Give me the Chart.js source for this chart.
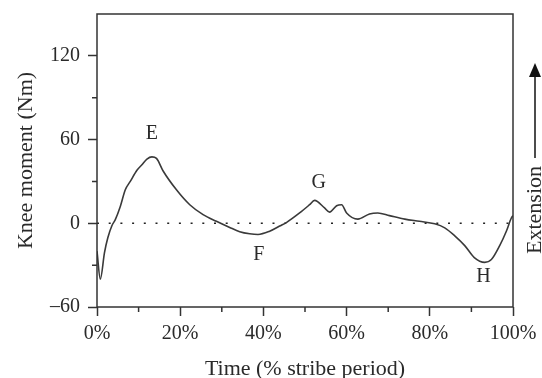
<!DOCTYPE html>
<html>
<head>
<meta charset="utf-8">
<script src="https://cdn.jsdelivr.net/npm/chart.js@4"></script>
<style>
  html, body { margin: 0; background: #fff; }
</style>
</head>
<body>
<canvas id="chart" width="542" height="378"></canvas>
<script>
// knee moment over one stride
const timePct = [0, 0.8, 1.8, 2.6, 3.6, 4.4, 5.6, 6.8, 8, 9.6, 10.8, 12, 13.2, 14.3, 15.9, 19.1, 22.3, 25.5,
  28.7, 31.9, 34.3, 36.7, 38.7, 41.5, 43.9, 45.6, 48.7, 51.1, 52.3, 54.7, 55.9, 57.6, 58.8,
  60, 62.7, 65.5, 67.5, 70.3, 74, 77.5, 81.2, 83.6, 86, 88.4, 90.7, 93.2, 94.8, 96.8, 98.4, 99.6, 100];
const kneeMoment = [-20, -40, -21, -10.4, -1.6, 2.6, 12, 24, 30, 38, 42, 46, 47.6, 46.5, 37.5, 24, 13.3, 6.2,
  1.4, -3, -6, -7.5, -8, -5.7, -2, 0.7, 7.4, 13.3, 16.4, 11, 8, 12.6, 13.3,
  7.4, 3, 6.7, 7.4, 5.5, 3, 1.4, -0.4, -3.3, -9, -16, -24.6, -28, -26, -16, -5.7, 3.8, 5.5];

const xMajor = [0, 20, 40, 60, 80, 100];
const xMinor = [10, 30, 50, 70, 90];
const yMajor = [-60, 0, 60, 120];
const yMinor = [-30, 30, 90];

const peakNames = ["E", "F", "G", "H"];
const peakX = [13.2, 38.9, 53.3, 92.9];
const peakY = [64.5, -22.3, 29, -38.6];

const serif = '"Liberation Serif", "Times New Roman", serif';
const ink = "#2a2a2a";

const extras = {
  id: "extras",
  afterDraw(chart) {
    const { ctx, chartArea: a, scales: { x, y } } = chart;
    ctx.save();
    ctx.strokeStyle = "#333";
    ctx.lineWidth = 1.5;
    ctx.strokeRect(a.left, a.top, a.right - a.left, a.bottom - a.top);

    // short minor ticks
    ctx.beginPath();
    xMinor.forEach(v => {
      const px = x.getPixelForValue(v);
      ctx.moveTo(px, a.bottom);
      ctx.lineTo(px, a.bottom + 5);
    });
    yMinor.forEach(v => {
      const py = y.getPixelForValue(v);
      ctx.moveTo(a.left, py);
      ctx.lineTo(a.left - 5, py);
    });
    ctx.stroke();

    // peak letters
    ctx.fillStyle = ink;
    ctx.font = "20px " + serif;
    ctx.textAlign = "center";
    ctx.textBaseline = "middle";
    peakNames.forEach((n, i) => {
      ctx.fillText(n, x.getPixelForValue(peakX[i]), y.getPixelForValue(peakY[i]));
    });

    // "Extension" arrow at the right
    const ax = a.right + 22;
    ctx.lineWidth = 1.5;
    ctx.strokeStyle = "#111";
    ctx.beginPath();
    ctx.moveTo(ax, 158);
    ctx.lineTo(ax, 74);
    ctx.stroke();
    ctx.fillStyle = "#111";
    ctx.beginPath();
    ctx.moveTo(ax, 63);
    ctx.lineTo(ax - 6, 77);
    ctx.lineTo(ax + 6, 77);
    ctx.closePath();
    ctx.fill();

    ctx.translate(a.right + 22, 210);
    ctx.rotate(-Math.PI / 2);
    ctx.fillStyle = ink;
    ctx.font = "22px " + serif;
    ctx.fillText("Extension", 0, 0);
    ctx.restore();
  }
};

new Chart(document.getElementById("chart"), {
  type: "line",
  data: {
    datasets: [
      {
        data: timePct.map((t, i) => ({ x: t, y: kneeMoment[i] })),
        borderColor: "#3a3a3a",
        borderWidth: 1.6,
        pointRadius: 0,
        cubicInterpolationMode: "monotone"
      },
      {
        data: [{ x: 0, y: 0 }, { x: 100, y: 0 }],
        borderColor: "#222",
        borderWidth: 1.6,
        borderDash: [2, 9.7],
        pointRadius: 0
      }
    ]
  },
  options: {
    responsive: false,
    animation: false,
    layout: { padding: { left: 0, right: 29, top: 14, bottom: 0 } },
    plugins: { legend: { display: false }, tooltip: { enabled: false } },
    scales: {
      x: {
        type: "linear",
        min: 0,
        max: 100,
        afterBuildTicks: s => { s.ticks = xMajor.map(v => ({ value: v })); },
        afterFit: s => { s.height = 71; s.paddingLeft = 0; s.paddingRight = 0; },
        border: { display: false },
        grid: { drawOnChartArea: false, drawTicks: true, tickLength: 9, tickColor: "#333", tickWidth: 1.5 },
        ticks: {
          color: ink,
          padding: 6,
          maxRotation: 0,
          font: { family: serif, size: 20 },
          callback: v => v + "%"
        },
        title: {
          display: true,
          text: "Time (% stribe period)",
          color: ink,
          font: { family: serif, size: 22, lineHeight: 0.8 },
          padding: { top: 0, bottom: 0 }
        }
      },
      y: {
        min: -60,
        max: 150,
        afterBuildTicks: s => { s.ticks = yMajor.map(v => ({ value: v })); },
        afterFit: s => { s.width = 97; s.paddingTop = 0; s.paddingBottom = 0; },
        border: { display: false },
        grid: { drawOnChartArea: false, drawTicks: true, tickLength: 9, tickColor: "#333", tickWidth: 1.5 },
        ticks: {
          color: ink,
          padding: 8,
          font: { family: serif, size: 20 },
          callback: v => (v < 0 ? "\u2013" + Math.abs(v) : "" + v)
        },
        title: {
          display: true,
          text: "Knee moment (Nm)",
          color: ink,
          font: { family: serif, size: 22, lineHeight: 1 },
          padding: { top: 15, bottom: 0 }
        }
      }
    }
  },
  plugins: [extras]
});
</script>
</body>
</html>
